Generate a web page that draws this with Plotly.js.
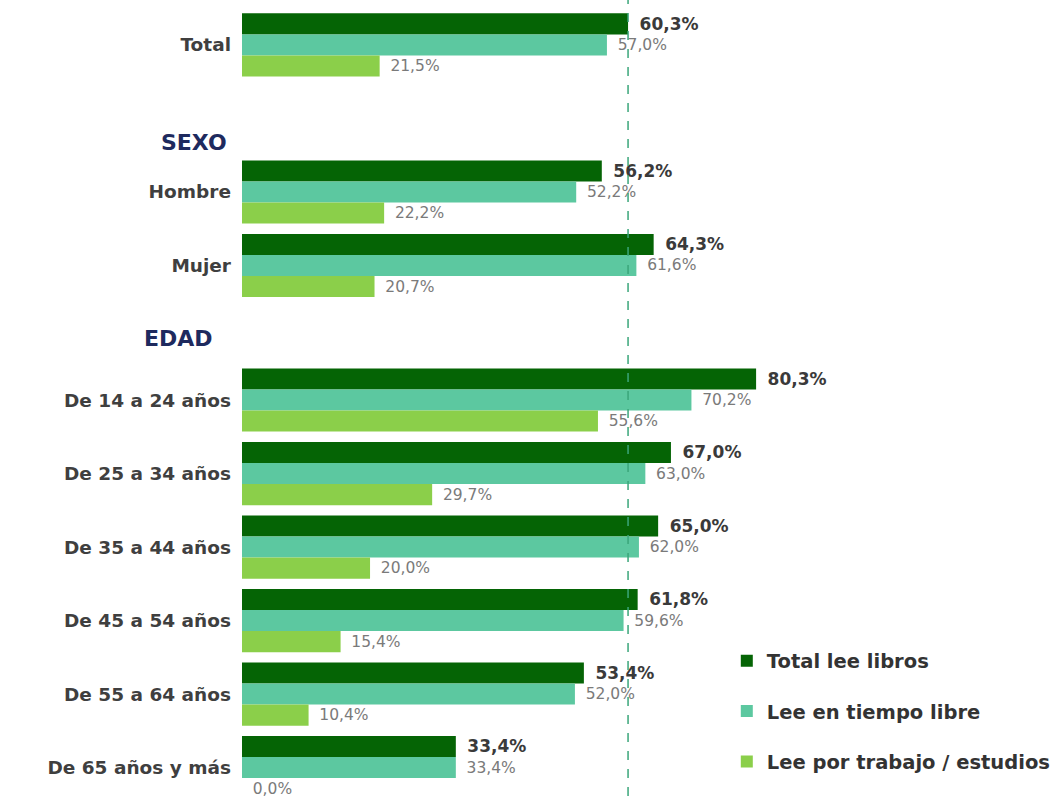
<!DOCTYPE html>
<html>
<head>
<meta charset="utf-8">
<script src="https://cdn.plot.ly/plotly-3.0.1.min.js"></script>
<style>html,body{margin:0;padding:0;background:#fff;}#chart{width:1063px;height:804px;}</style>
</head>
<body>
<div id="chart"></div>
<script>
// ---- data ----
const categories = ["Total", "Hombre", "Mujer", "De 14 a 24 años", "De 25 a 34 años", "De 35 a 44 años", "De 45 a 54 años", "De 55 a 64 años", "De 65 años y más"];
const totalLee = [60.3, 56.2, 64.3, 80.3, 67.0, 65.0, 61.8, 53.4, 33.4];
const tiempoLibre = [57.0, 52.2, 61.6, 70.2, 63.0, 62.0, 59.6, 52.0, 33.4];
const trabajoEstudios = [21.5, 22.2, 20.7, 55.6, 29.7, 20.0, 15.4, 10.4, 0.0];
const seriesNames = ["Total lee libros", "Lee en tiempo libre", "Lee por trabajo / estudios"];
const sectionLabels = ["SEXO", "EDAD"];

// ---- layout (row placement, not data) ----
const rowPos = [0, 2, 3, 4.83, 5.83, 6.83, 7.83, 8.83, 9.83];
const sectionPos = [1.32, 3.99];
const sectionX = [-0.016, -0.033];

const colors = ["#056405", "#5cc8a0", "#8bcf4a"];
const font = "DejaVu Sans, sans-serif";

function mk(vals, i) {
  return {
    type: "bar", orientation: "h",
    x: vals, y: rowPos,
    name: seriesNames[i],
    legendgroup: "g" + i,
    marker: {color: colors[i]},
    texttemplate: "\u2002%{x:.1f}%",
    textposition: "outside",
    cliponaxis: false,
    constraintext: "none",
    textfont: i === 0 ? {family: font, size: 17, color: "#3a3a3a", weight: "bold"} : {family: font, size: 15.5, color: "#7a7a7a"},
    hoverinfo: "skip"
  };
}

const data = [mk(totalLee, 0), mk(tiempoLibre, 1), mk(trabajoEstudios, 2)];

const annotations = sectionLabels.map((t, i) => ({
  text: "<b>" + t + "</b>", xref: "paper", yref: "y", x: sectionX[i], y: sectionPos[i],
  xanchor: "right", yanchor: "middle", showarrow: false,
  font: {family: font, size: 22, color: "#1e2a5e"}
}));

const layout = {
  width: 1063, height: 804,
  margin: {l: 242, r: 13, t: 8, b: 8},
  paper_bgcolor: "#ffffff", plot_bgcolor: "#ffffff",
  separators: ",.",
  barmode: "group", bargap: 0.14, bargroupgap: 0,
  showlegend: true,
  legend: {
    x: 0.6, y: 0.196, xanchor: "left", yanchor: "top",
    traceorder: "grouped", tracegroupgap: 22,
    font: {family: font, size: 19.5, color: "#333333", weight: "bold"},
    bgcolor: "rgba(0,0,0,0)"
  },
  xaxis: {range: [0, 126.05], showgrid: false, zeroline: false, showticklabels: false, showline: false, fixedrange: true},
  yaxis: {
    range: [10.217, -0.503], tickmode: "array", tickvals: rowPos, ticktext: categories,
    showgrid: false, zeroline: false, showline: false, ticks: "", ticklabelstandoff: 10,
    tickfont: {family: font, size: 18.5, color: "#3f3f3f", weight: "bold"}, fixedrange: true
  },
  shapes: [{
    type: "line", xref: "x", yref: "paper", x0: totalLee[0], x1: totalLee[0], y0: 0, y1: 1.01,
    line: {color: "#3aa67a", width: 1.5, dash: "dash"}, layer: "above"
  }],
  annotations: annotations
};

Plotly.newPlot("chart", data, layout, {displayModeBar: false, staticPlot: true});
</script>
</body>
</html>
